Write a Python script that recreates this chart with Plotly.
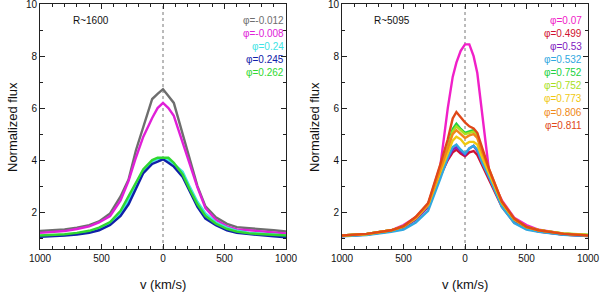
import plotly.graph_objects as go

# ---------------- data ----------------
vel_left = [-1000, -900, -800, -700, -600, -520, -430, -345, -280, -220, -160, -88, -44, 0,
            44, 88, 160, 220, 280, 345, 430, 520, 600, 700, 800, 900, 1000]
left_labels = ["φ=-0.012", "φ=-0.008", "φ=0.24", "φ=0.245", "φ=0.262"]
left_colors = ["#6e6e6e", "#e020d8", "#40e4e4", "#1020a8", "#30d830"]
flux_m0012 = [1.27, 1.30, 1.33, 1.40, 1.50, 1.64, 1.95, 2.60, 3.25, 4.38, 5.27, 6.35, 6.55, 6.73,
              6.47, 6.20, 5.00, 3.95, 3.00, 2.22, 1.80, 1.55, 1.42, 1.38, 1.35, 1.30, 1.25]
flux_m0008 = [1.20, 1.23, 1.27, 1.35, 1.45, 1.60, 1.85, 2.45, 3.20, 4.10, 4.90, 5.62, 6.00, 6.20,
              6.00, 5.70, 4.65, 3.80, 2.95, 2.15, 1.70, 1.45, 1.33, 1.30, 1.27, 1.22, 1.18]
flux_0240 = [1.08, 1.10, 1.12, 1.17, 1.25, 1.35, 1.55, 1.95, 2.45, 3.00, 3.55, 3.95, 4.05, 4.06,
             4.00, 3.85, 3.55, 2.95, 2.40, 1.95, 1.60, 1.40, 1.28, 1.20, 1.16, 1.13, 1.10]
flux_0245 = [1.05, 1.07, 1.10, 1.14, 1.20, 1.30, 1.50, 1.85, 2.30, 2.90, 3.50, 3.85, 3.95, 4.03,
             3.90, 3.75, 3.35, 2.75, 2.20, 1.75, 1.50, 1.30, 1.20, 1.15, 1.10, 1.07, 1.03]
flux_0262 = [1.10, 1.12, 1.15, 1.20, 1.28, 1.40, 1.62, 2.05, 2.60, 3.15, 3.65, 4.00, 4.09, 4.09,
             4.09, 3.90, 3.45, 2.85, 2.30, 1.85, 1.55, 1.35, 1.25, 1.18, 1.15, 1.12, 1.10]
left_series = [flux_m0012, flux_m0008, flux_0240, flux_0245, flux_0262]

vel_right = [-1000, -800, -600, -500, -400, -300, -200, -140, -100, -70, -35, 0,
             35, 70, 100, 140, 200, 300, 400, 500, 600, 800, 1000]
right_labels = ["φ=0.07", "φ=0.499", "φ=0.53", "φ=0.532", "φ=0.752", "φ=0.752",
                "φ=0.773", "φ=0.806", "φ=0.811"]
right_colors = ["#f020c8", "#d01030", "#8020c0", "#30a8e0", "#20d040", "#a8e020",
                "#f0c810", "#f08818", "#e04818"]
flux_r007 = [1.10, 1.15, 1.30, 1.50, 1.80, 2.30, 3.80, 6.00, 7.20, 7.75, 8.20, 8.45,
             8.45, 8.00, 7.35, 5.80, 3.40, 2.45, 1.78, 1.50, 1.32, 1.17, 1.10]
flux_r0499 = [1.08, 1.14, 1.27, 1.40, 1.72, 2.20, 3.40, 4.00, 4.30, 4.40, 4.25, 4.15,
              4.30, 4.35, 4.20, 3.80, 3.20, 2.20, 1.60, 1.36, 1.25, 1.14, 1.08]
flux_r053 = [1.08, 1.14, 1.27, 1.40, 1.72, 2.20, 3.40, 4.05, 4.40, 4.50, 4.35, 4.20,
             4.45, 4.55, 4.35, 3.90, 3.30, 2.25, 1.62, 1.38, 1.26, 1.14, 1.09]
flux_r0532 = [1.07, 1.12, 1.24, 1.33, 1.60, 2.05, 3.30, 4.10, 4.50, 4.60, 4.40, 4.25,
              4.45, 4.55, 4.40, 3.90, 3.30, 2.20, 1.58, 1.33, 1.24, 1.13, 1.08]
flux_r0752a = [1.10, 1.16, 1.30, 1.45, 1.78, 2.30, 3.60, 4.50, 5.20, 5.40, 5.20, 5.05,
               5.10, 5.15, 5.00, 4.30, 3.50, 2.35, 1.72, 1.42, 1.30, 1.17, 1.12]
flux_r0752b = [1.10, 1.16, 1.30, 1.45, 1.78, 2.30, 3.60, 4.50, 5.10, 5.30, 5.15, 5.00,
               5.05, 5.10, 4.95, 4.25, 3.50, 2.35, 1.72, 1.42, 1.30, 1.18, 1.13]
flux_r0773 = [1.10, 1.15, 1.30, 1.44, 1.76, 2.27, 3.55, 4.30, 4.75, 4.90, 4.80, 4.60,
              4.70, 4.70, 4.60, 4.10, 3.45, 2.35, 1.72, 1.42, 1.30, 1.17, 1.11]
flux_r0806 = [1.10, 1.16, 1.30, 1.45, 1.80, 2.30, 3.65, 4.50, 5.00, 5.15, 5.00, 4.85,
              4.95, 5.00, 4.85, 4.30, 3.60, 2.40, 1.75, 1.43, 1.30, 1.17, 1.11]
flux_r0811 = [1.10, 1.16, 1.30, 1.46, 1.82, 2.35, 3.85, 4.80, 5.60, 5.85, 5.65, 5.45,
              5.30, 5.22, 5.05, 4.50, 3.60, 2.40, 1.75, 1.43, 1.30, 1.16, 1.10]
right_series = [flux_r007, flux_r0499, flux_r053, flux_r0532, flux_r0752a, flux_r0752b,
                flux_r0773, flux_r0806, flux_r0811]

x_tickvals = [-1000, -500, 0, 500, 1000]
x_ticktext = ["1000", "500", "0", "500", "1000"]
y_tickvals = [2, 4, 6, 8, 10]

# ---------------- figure ----------------
W, H = 600, 293
FONT = "Liberation Sans, Arial, Helvetica, sans-serif"
fig = go.Figure()

for vals, col, lab in zip(left_series, left_colors, left_labels):
    fig.add_trace(go.Scatter(x=vel_left, y=vals, mode="lines", name=lab,
                             line=dict(color=col, width=2.4), xaxis="x", yaxis="y"))
for vals, col, lab in zip(right_series, right_colors, right_labels):
    fig.add_trace(go.Scatter(x=vel_right, y=vals, mode="lines", name=lab,
                             line=dict(color=col, width=2.4), xaxis="x2", yaxis="y2"))


def px_x(p):
    return p / W


def px_y(p):
    return 1 - p / H


xdom1 = [px_x(40), px_x(286)]
xdom2 = [px_x(342), px_x(588)]
ydom = [px_y(249), px_y(4)]

axis_common = dict(showline=True, linecolor="#222", linewidth=1, mirror="ticks",
                   ticks="inside", ticklen=5, tickcolor="#222", showgrid=False,
                   zeroline=False, automargin=False, ticklabeloverflow="allow",
                   tickfont=dict(family=FONT, size=10, color="#111"))
xax = dict(axis_common, range=[-1000, 1000], tickvals=x_tickvals, ticktext=x_ticktext,
           minor=dict(ticks="inside", ticklen=3, dtick=100, tickcolor="#222", showgrid=False))
yax = dict(axis_common, range=[0.58, 10.005], tickvals=y_tickvals,
           minor=dict(ticks="inside", ticklen=3, dtick=1, tick0=0, tickcolor="#222", showgrid=False))

fig.update_layout(
    width=W, height=H, margin=dict(l=0, r=0, t=0, b=0, autoexpand=False),
    paper_bgcolor="white", plot_bgcolor="white", showlegend=False,
    xaxis=dict(xax, domain=xdom1, anchor="y"),
    yaxis=dict(yax, domain=ydom, anchor="x"),
    xaxis2=dict(xax, domain=xdom2, anchor="y2"),
    yaxis2=dict(yax, domain=ydom, anchor="x2"),
)

for xr in ["x", "x2"]:
    yr = "y" if xr == "x" else "y2"
    fig.add_shape(type="line", xref=xr, yref=yr + " domain", x0=0, x1=0, y0=0, y1=1,
                  line=dict(color="#777", width=1, dash="dot"), layer="below")

anns = []
for cx in [163, 465]:
    anns.append(dict(text="v (km/s)", x=px_x(cx), y=px_y(284), xref="paper", yref="paper",
                     showarrow=False, font=dict(family=FONT, size=13, color="#111"),
                     xanchor="center", yanchor="middle"))
for cx in [12, 314]:
    anns.append(dict(text="Normalized flux", x=px_x(cx), y=px_y(127), xref="paper", yref="paper",
                     showarrow=False, textangle=-90, font=dict(family=FONT, size=13, color="#111"),
                     xanchor="center", yanchor="middle"))
anns.append(dict(text="R~1600", x=px_x(71), y=px_y(21), xref="paper", yref="paper",
                 showarrow=False, font=dict(family=FONT, size=10, color="#111"),
                 xanchor="left", yanchor="middle"))
anns.append(dict(text="R~5095", x=px_x(372), y=px_y(21), xref="paper", yref="paper",
                 showarrow=False, font=dict(family=FONT, size=10, color="#111"),
                 xanchor="left", yanchor="middle"))
for i, (lab, col) in enumerate(zip(left_labels, left_colors)):
    anns.append(dict(text=lab, x=px_x(286), y=px_y(21 + 13 * i), xref="paper", yref="paper",
                     showarrow=False, font=dict(family=FONT, size=10, color=col),
                     xanchor="right", yanchor="middle"))
for i, (lab, col) in enumerate(zip(right_labels, right_colors)):
    anns.append(dict(text=lab, x=px_x(584), y=px_y(21 + 13 * i), xref="paper", yref="paper",
                     showarrow=False, font=dict(family=FONT, size=10, color=col),
                     xanchor="right", yanchor="middle"))
fig.update_layout(annotations=anns)

fig.write_html("out.html", config={"displayModeBar": False},
               post_script="document.body.style.margin='0';document.body.style.padding='0';")
